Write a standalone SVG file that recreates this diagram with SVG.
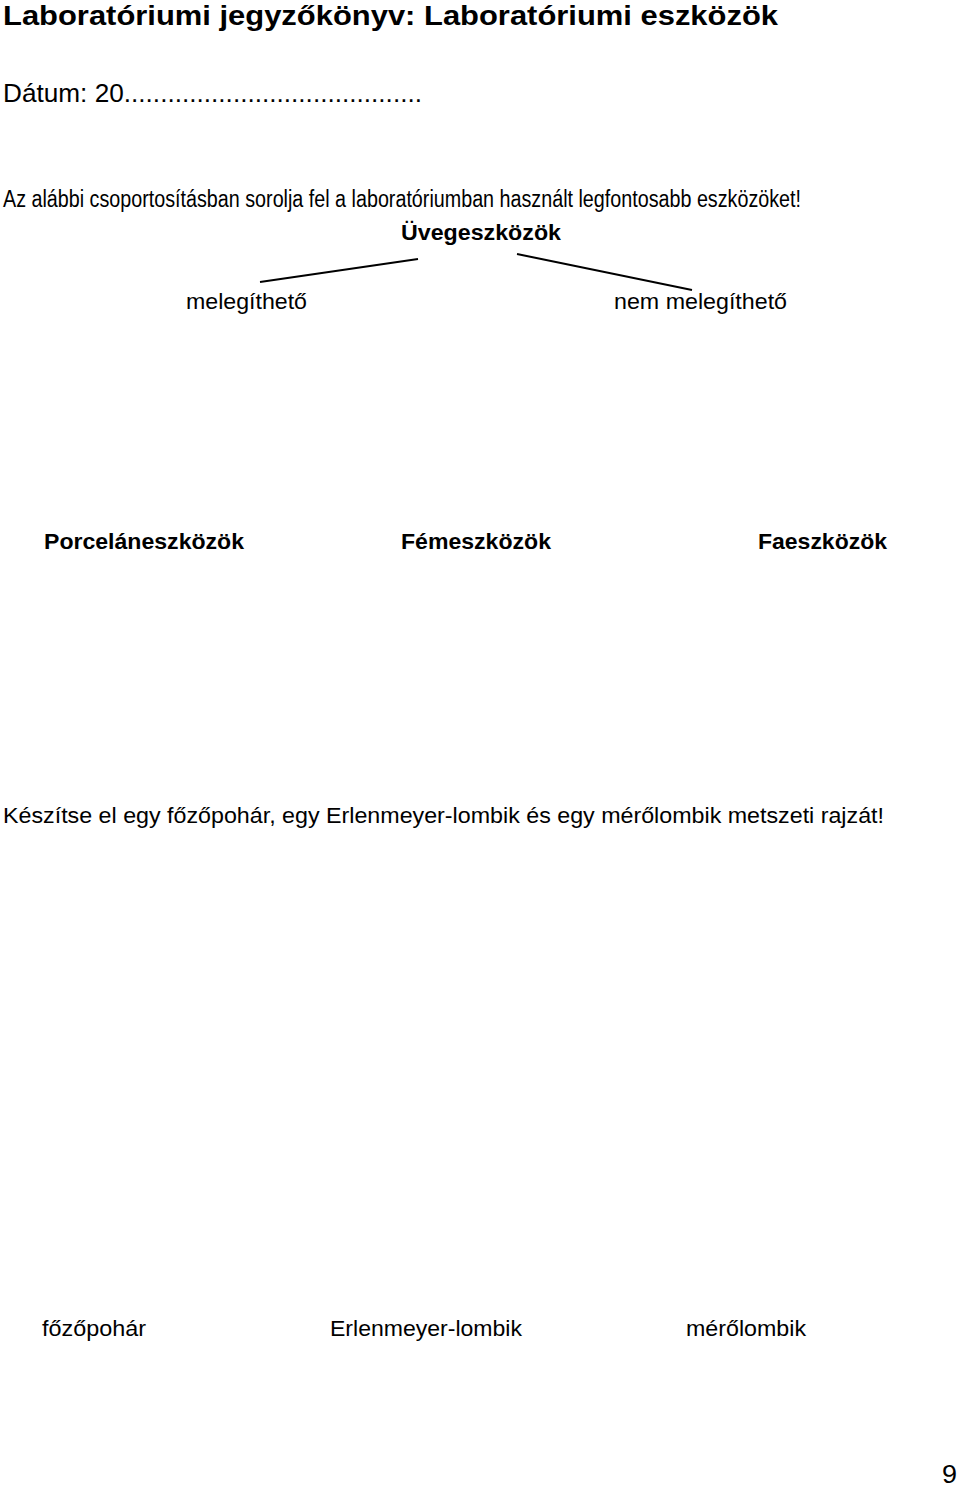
<svg xmlns="http://www.w3.org/2000/svg" width="960" height="1486" viewBox="0 0 960 1486">
<style>
text{font-family:"Liberation Sans",Arial,sans-serif;fill:#000}
.b{font-weight:bold}
.ln{stroke:#000;stroke-width:2;fill:none}
</style>
<rect width="960" height="1486" fill="#fff"/>
<g id="header">
<text class="b" x="3" y="25" font-size="28.5" textLength="775" lengthAdjust="spacingAndGlyphs">Laboratóriumi jegyzőkönyv: Laboratóriumi eszközök</text>
<text x="3" y="101.5" font-size="25.5" textLength="419" lengthAdjust="spacingAndGlyphs">Dátum: 20.........................................</text>
<text x="3" y="207" font-size="23" textLength="798" lengthAdjust="spacingAndGlyphs">Az alábbi csoportosításban sorolja fel a laboratóriumban használt legfontosabb eszközöket!</text>
</g>
<g id="node-uveg"><text class="b" x="401" y="240" font-size="22" textLength="160" lengthAdjust="spacingAndGlyphs">Üvegeszközök</text></g>
<g id="node-meleg"><text x="186" y="309" font-size="22" textLength="121" lengthAdjust="spacingAndGlyphs">melegíthető</text></g>
<g id="node-nemmeleg"><text x="614" y="309" font-size="22" textLength="173" lengthAdjust="spacingAndGlyphs">nem melegíthető</text></g>
<g id="connectors">
<line class="ln" x1="260" y1="282" x2="418" y2="259"/>
<line class="ln" x1="517" y1="254" x2="692" y2="290"/>
</g>
<g id="node-porcelan"><text class="b" x="44" y="549" font-size="22" textLength="200" lengthAdjust="spacingAndGlyphs">Porceláneszközök</text></g>
<g id="node-fem"><text class="b" x="401" y="549" font-size="22" textLength="150" lengthAdjust="spacingAndGlyphs">Fémeszközök</text></g>
<g id="node-fa"><text class="b" x="758" y="549" font-size="22" textLength="129" lengthAdjust="spacingAndGlyphs">Faeszközök</text></g>
<g id="task2"><text x="3" y="823" font-size="22.5" textLength="881" lengthAdjust="spacingAndGlyphs">Készítse el egy főzőpohár, egy Erlenmeyer-lombik és egy mérőlombik metszeti rajzát!</text></g>
<g id="labels">
<text x="42" y="1336" font-size="22" textLength="104" lengthAdjust="spacingAndGlyphs">főzőpohár</text>
<text x="330" y="1336" font-size="22" textLength="192" lengthAdjust="spacingAndGlyphs">Erlenmeyer-lombik</text>
<text x="686" y="1336" font-size="22" textLength="120" lengthAdjust="spacingAndGlyphs">mérőlombik</text>
</g>
<g id="page"><text x="942" y="1483" font-size="25" textLength="15" lengthAdjust="spacingAndGlyphs">9</text></g>
</svg>
